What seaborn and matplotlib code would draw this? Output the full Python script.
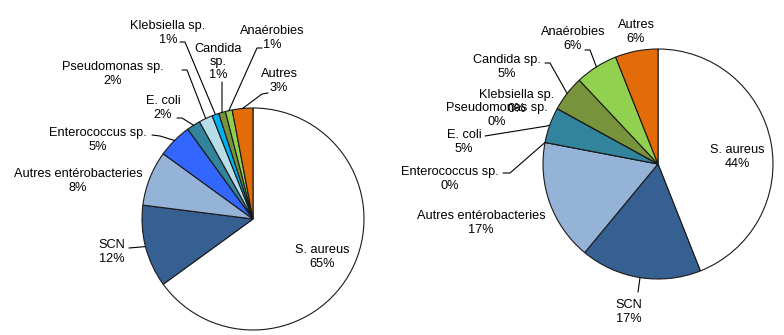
import matplotlib
matplotlib.use("Agg")
import matplotlib.pyplot as plt
import seaborn as sns
import numpy as np

sns.set_theme(style="white")
plt.rcParams['font.family'] = ['Liberation Sans', 'DejaVu Sans']

categories = ["S. aureus", "SCN", "Autres entérobacteries", "Enterococcus sp.",
              "E. coli", "Pseudomonas sp.", "Klebsiella sp.", "Candida sp.",
              "Anaérobies", "Autres"]
values_left = [65, 12, 8, 5, 2, 2, 1, 1, 1, 3]
values_right = [44, 17, 17, 0, 5, 0, 0, 5, 6, 6]
colors = ["#FFFFFF", "#366092", "#95B3D7", "#3366FF", "#31849B",
          "#B7DEE8", "#00B0F0", "#77933C", "#92D050", "#E36C09"]

# label texts (left uses a 3-line Candida label)
names_left = ["S. aureus", "SCN", "Autres entérobacteries", "Enterococcus sp.",
              "E. coli", "Pseudomonas sp.", "Klebsiella sp.", "Candida\nsp.",
              "Anaérobies", "Autres"]
names_right = categories

W, H = 784, 335

# layout (pixel coords, y from top)
left_pie = dict(center=(253, 219), radius=111)
right_pie = dict(center=(658, 164), radius=115)

left_text = [(322, 257), (112, 252), (78, 181), (98, 140), (163, 108),
             (113, 74), (168, 33), (218, 62), (272, 38), (279, 81)]
left_lead = [None, [(129, 248)], None, [(152, 135), (160, 136)],
             [(177, 118), (182, 118)], [(182, 70), (187, 70)],
             [(180, 42), (185, 42)], [(222, 82)], [(262, 48), (257, 48)],
             [(268, 93), (262, 94)]]

right_text = [(737, 157), (629, 312), (481, 223), (450, 179), (464, 142),
              (497, 115), (517, 102), (507, 67), (573, 39), (636, 32)]
right_lead = [None, [(638, 292)], None, [(503, 173), (510, 173)],
              [(485, 136), (547, 126)], None, None,
              [(545, 63), (550, 63)], [(585, 50), (590, 50)], None]

fig = plt.figure(figsize=(W / 100, H / 100), dpi=100)
fig.patch.set_facecolor("white")
ax = fig.add_axes([0, 0, 1, 1])


def conv(p):
    return (p[0], H - p[1])


def draw(values, names, pie, texts, leads):
    cx, cy = conv(pie["center"])
    r = pie["radius"]
    wedges, _ = ax.pie(values, colors=colors, startangle=90, counterclock=False,
                       center=(cx, cy), radius=r,
                       wedgeprops=dict(edgecolor="#1a1a1a", linewidth=0.8))
    for w, v, name, t, lead in zip(wedges, values, names, texts, leads):
        tx, ty = conv(t)
        ax.text(tx, ty, f"{name}\n{v}%", ha="center", va="center",
                multialignment="center", fontsize=9.2, color="black",
                linespacing=1.15, zorder=5)
        if lead is not None:
            mid = np.deg2rad((w.theta1 + w.theta2) / 2)
            anchor = (cx + r * np.cos(mid), cy + r * np.sin(mid))
            pts = [conv(p) for p in lead] + [anchor]
            xs, ys = zip(*pts)
            ax.plot(xs, ys, color="black", lw=0.8, zorder=4)


draw(values_left, names_left, left_pie, left_text, left_lead)
draw(values_right, names_right, right_pie, right_text, right_lead)

ax.set_xlim(0, W)
ax.set_ylim(0, H)
ax.set_aspect("equal")
ax.axis("off")

fig.savefig("out.png", dpi=100, facecolor="white")
